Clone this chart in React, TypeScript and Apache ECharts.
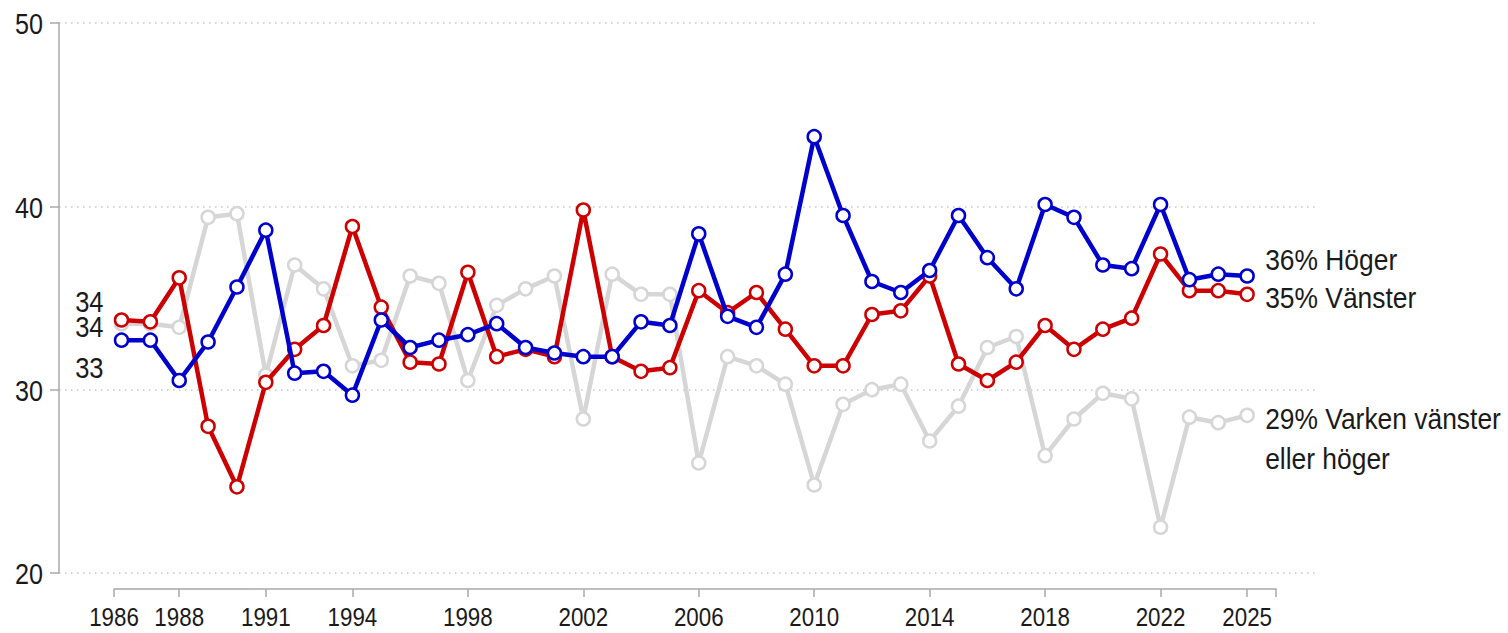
import React, { useEffect, useRef } from "react";
import * as echarts from "echarts";

const years = [
  1986, 1987, 1988, 1989, 1990, 1991, 1992, 1993, 1994, 1995,
  1996, 1997, 1998, 1999, 2000, 2001, 2002, 2003, 2004, 2005,
  2006, 2007, 2008, 2009, 2010, 2011, 2012, 2013, 2014, 2015,
  2016, 2017, 2018, 2019, 2020, 2021, 2022, 2023, 2024, 2025,
];

const hoger = [
  32.7, 32.7, 30.5, 32.6, 35.6, 38.7, 30.9, 31.0, 29.7, 33.8,
  32.3, 32.7, 33.0, 33.6, 32.3, 32.0, 31.8, 31.8, 33.7, 33.5,
  38.5, 34.0, 33.4, 36.3, 43.8, 39.5, 35.9, 35.3, 36.5, 39.5,
  37.2, 35.5, 40.1, 39.4, 36.8, 36.6, 40.1, 36.0, 36.3, 36.2,
];

const vanster = [
  33.8, 33.7, 36.1, 28.0, 24.7, 30.4, 32.2, 33.5, 38.9, 34.5,
  31.5, 31.4, 36.4, 31.8, 32.2, 31.8, 39.8, 31.8, 31.0, 31.2,
  35.4, 34.2, 35.3, 33.3, 31.3, 31.3, 34.1, 34.3, 36.2, 31.4,
  30.5, 31.5, 33.5, 32.2, 33.3, 33.9, 37.4, 35.4, 35.4, 35.2,
];

const varken = [
  33.6, 33.6, 33.4, 39.4, 39.6, 30.8, 36.8, 35.5, 31.3, 31.6,
  36.2, 35.8, 30.5, 34.6, 35.5, 36.2, 28.4, 36.3, 35.2, 35.2,
  26.0, 31.8, 31.3, 30.3, 24.8, 29.2, 30.0, 30.3, 27.2, 29.1,
  32.3, 32.9, 26.4, 28.4, 29.8, 29.5, 22.5, 28.5, 28.2, 28.6,
];

const xLabelYears = [1986, 1988, 1991, 1994, 1998, 2002, 2006, 2010, 2014, 2018, 2022, 2025];
const yTicks = [20, 30, 40, 50];

const seriesNames = ["Höger", "Vänster", "Varken vänster\neller höger"];

const FONT = "'Liberation Sans', Arial, sans-serif";
const TEXT = "#1a1a1a";
const BLUE = "#0000cc";
const RED = "#cc0000";
const GRAY = "#d6d6d6";

export default function App() {
  const ref = useRef<HTMLDivElement>(null);

  useEffect(() => {
    document.body.style.margin = "0";
    if (!ref.current) return;
    const chart = echarts.init(ref.current, null, { renderer: "svg" });

    const xMin = 1985.74;
    const xMax = 2026;
    const tickVals = [xMin, ...xLabelYears.slice(1), xMax];
    const axisOffset = 16;

    const makeSeries = (name: string, values: number[], color: string, z: number) => ({
      name,
      type: "line",
      xAxisIndex: 1,
      yAxisIndex: 1,
      z,
      symbol: "circle",
      symbolSize: 13,
      showAllSymbol: true,
      lineStyle: { color, width: 4.5 },
      itemStyle: { color: "#ffffff", borderColor: color, borderWidth: 2.5 },
      emphasis: { disabled: true },
      data: values.map((v, i) => [years[i], v]),
    });

    chart.setOption({
      animation: false,
      backgroundColor: "#ffffff",
      grid: [
        { left: 59, right: 190, top: 23, bottom: 60 },
        { left: 114, right: 232, top: 23, bottom: 60 },
      ],
      xAxis: [
        { type: "value", gridIndex: 0, min: 0, max: 1, show: false },
        {
          type: "value",
          gridIndex: 1,
          min: xMin,
          max: xMax,
          offset: axisOffset,
          axisLine: { show: true, lineStyle: { color: "#a8a8a8", width: 1.5 } },
          axisTick: {
            show: true,
            length: 8,
            customValues: tickVals,
            lineStyle: { color: "#a8a8a8", width: 1.5 },
          },
          axisLabel: { show: false },
          splitLine: { show: false },
        },
      ],
      yAxis: [
        {
          type: "value",
          gridIndex: 0,
          min: yTicks[0],
          max: yTicks[yTicks.length - 1],
          interval: 10,
          axisLine: { show: true, lineStyle: { color: "#a8a8a8", width: 1.5 } },
          axisTick: { show: true, length: 9, lineStyle: { color: "#a8a8a8", width: 1.5 } },
          axisLabel: { show: false },
          splitLine: {
            show: true,
            lineStyle: { color: "#c8c8c8", width: 1.5, type: [1.5, 4.5] },
          },
        },
        {
          type: "value",
          gridIndex: 1,
          min: yTicks[0],
          max: yTicks[yTicks.length - 1],
          show: false,
          splitLine: { show: false },
        },
      ],
      series: [
        makeSeries(seriesNames[2], varken, GRAY, 2),
        makeSeries(seriesNames[1], vanster, RED, 3),
        makeSeries(seriesNames[0], hoger, BLUE, 4),
      ],
    });

    // Text placed through the library's own scales
    const px = (x: number, y: number) =>
      chart.convertToPixel({ gridIndex: 1 }, [x, y]) as number[];
    const baseY = px(years[0], yTicks[0])[1];
    const axisY = baseY + axisOffset;

    const txt = (
      text: string,
      x: number,
      y: number,
      fontSize: number,
      scaleX: number,
      align: string,
      lineHeight?: number
    ) => ({
      type: "text",
      x,
      y,
      scaleX,
      z: 10,
      silent: true,
      style: {
        text,
        fontFamily: FONT,
        fontSize,
        lineHeight: lineHeight || fontSize,
        fill: TEXT,
        align,
        verticalAlign: "middle",
      },
    });

    const graphics: any[] = [];

    // x-axis labels (1986 sits at the axis start)
    xLabelYears.forEach((yr, i) => {
      const v = i === 0 ? xMin : yr;
      const x = px(v, yTicks[0])[0];
      graphics.push(txt(String(yr), x, axisY + 28, 26, 0.86, "center", 22));
    });

    // y-axis labels
    yTicks.forEach((t) => {
      const y = chart.convertToPixel({ gridIndex: 0 }, [0, t]) as number[];
      graphics.push(txt(String(t), 43, y[1] + 1, 30, 0.84, "right"));
    });

    // start labels
    const last = years.length - 1;
    const starts: [number[], number][] = [
      [vanster, -18],
      [varken, 3],
      [hoger, 28],
    ];
    starts.forEach(([vals, dy]) => {
      const p = px(years[0], vals[0]);
      graphics.push(txt(String(Math.round(vals[0])), p[0] - 18, p[1] + dy, 29, 0.88, "right"));
    });

    // end labels
    const ends: [number[], string, number][] = [
      [hoger, seriesNames[0], -17],
      [vanster, seriesNames[1], 3],
      [varken, seriesNames[2], 23],
    ];
    ends.forEach(([vals, name, dy]) => {
      const p = px(years[last], vals[last]);
      graphics.push(
        txt(`${Math.round(vals[last])}% ${name}`, p[0] + 18, p[1] + dy, 30, 0.88, "left", 40)
      );
    });

    chart.setOption({ graphic: { elements: graphics } });

    return () => chart.dispose();
  }, []);

  return <div ref={ref} style={{ width: 1508, height: 633 }} />;
}
